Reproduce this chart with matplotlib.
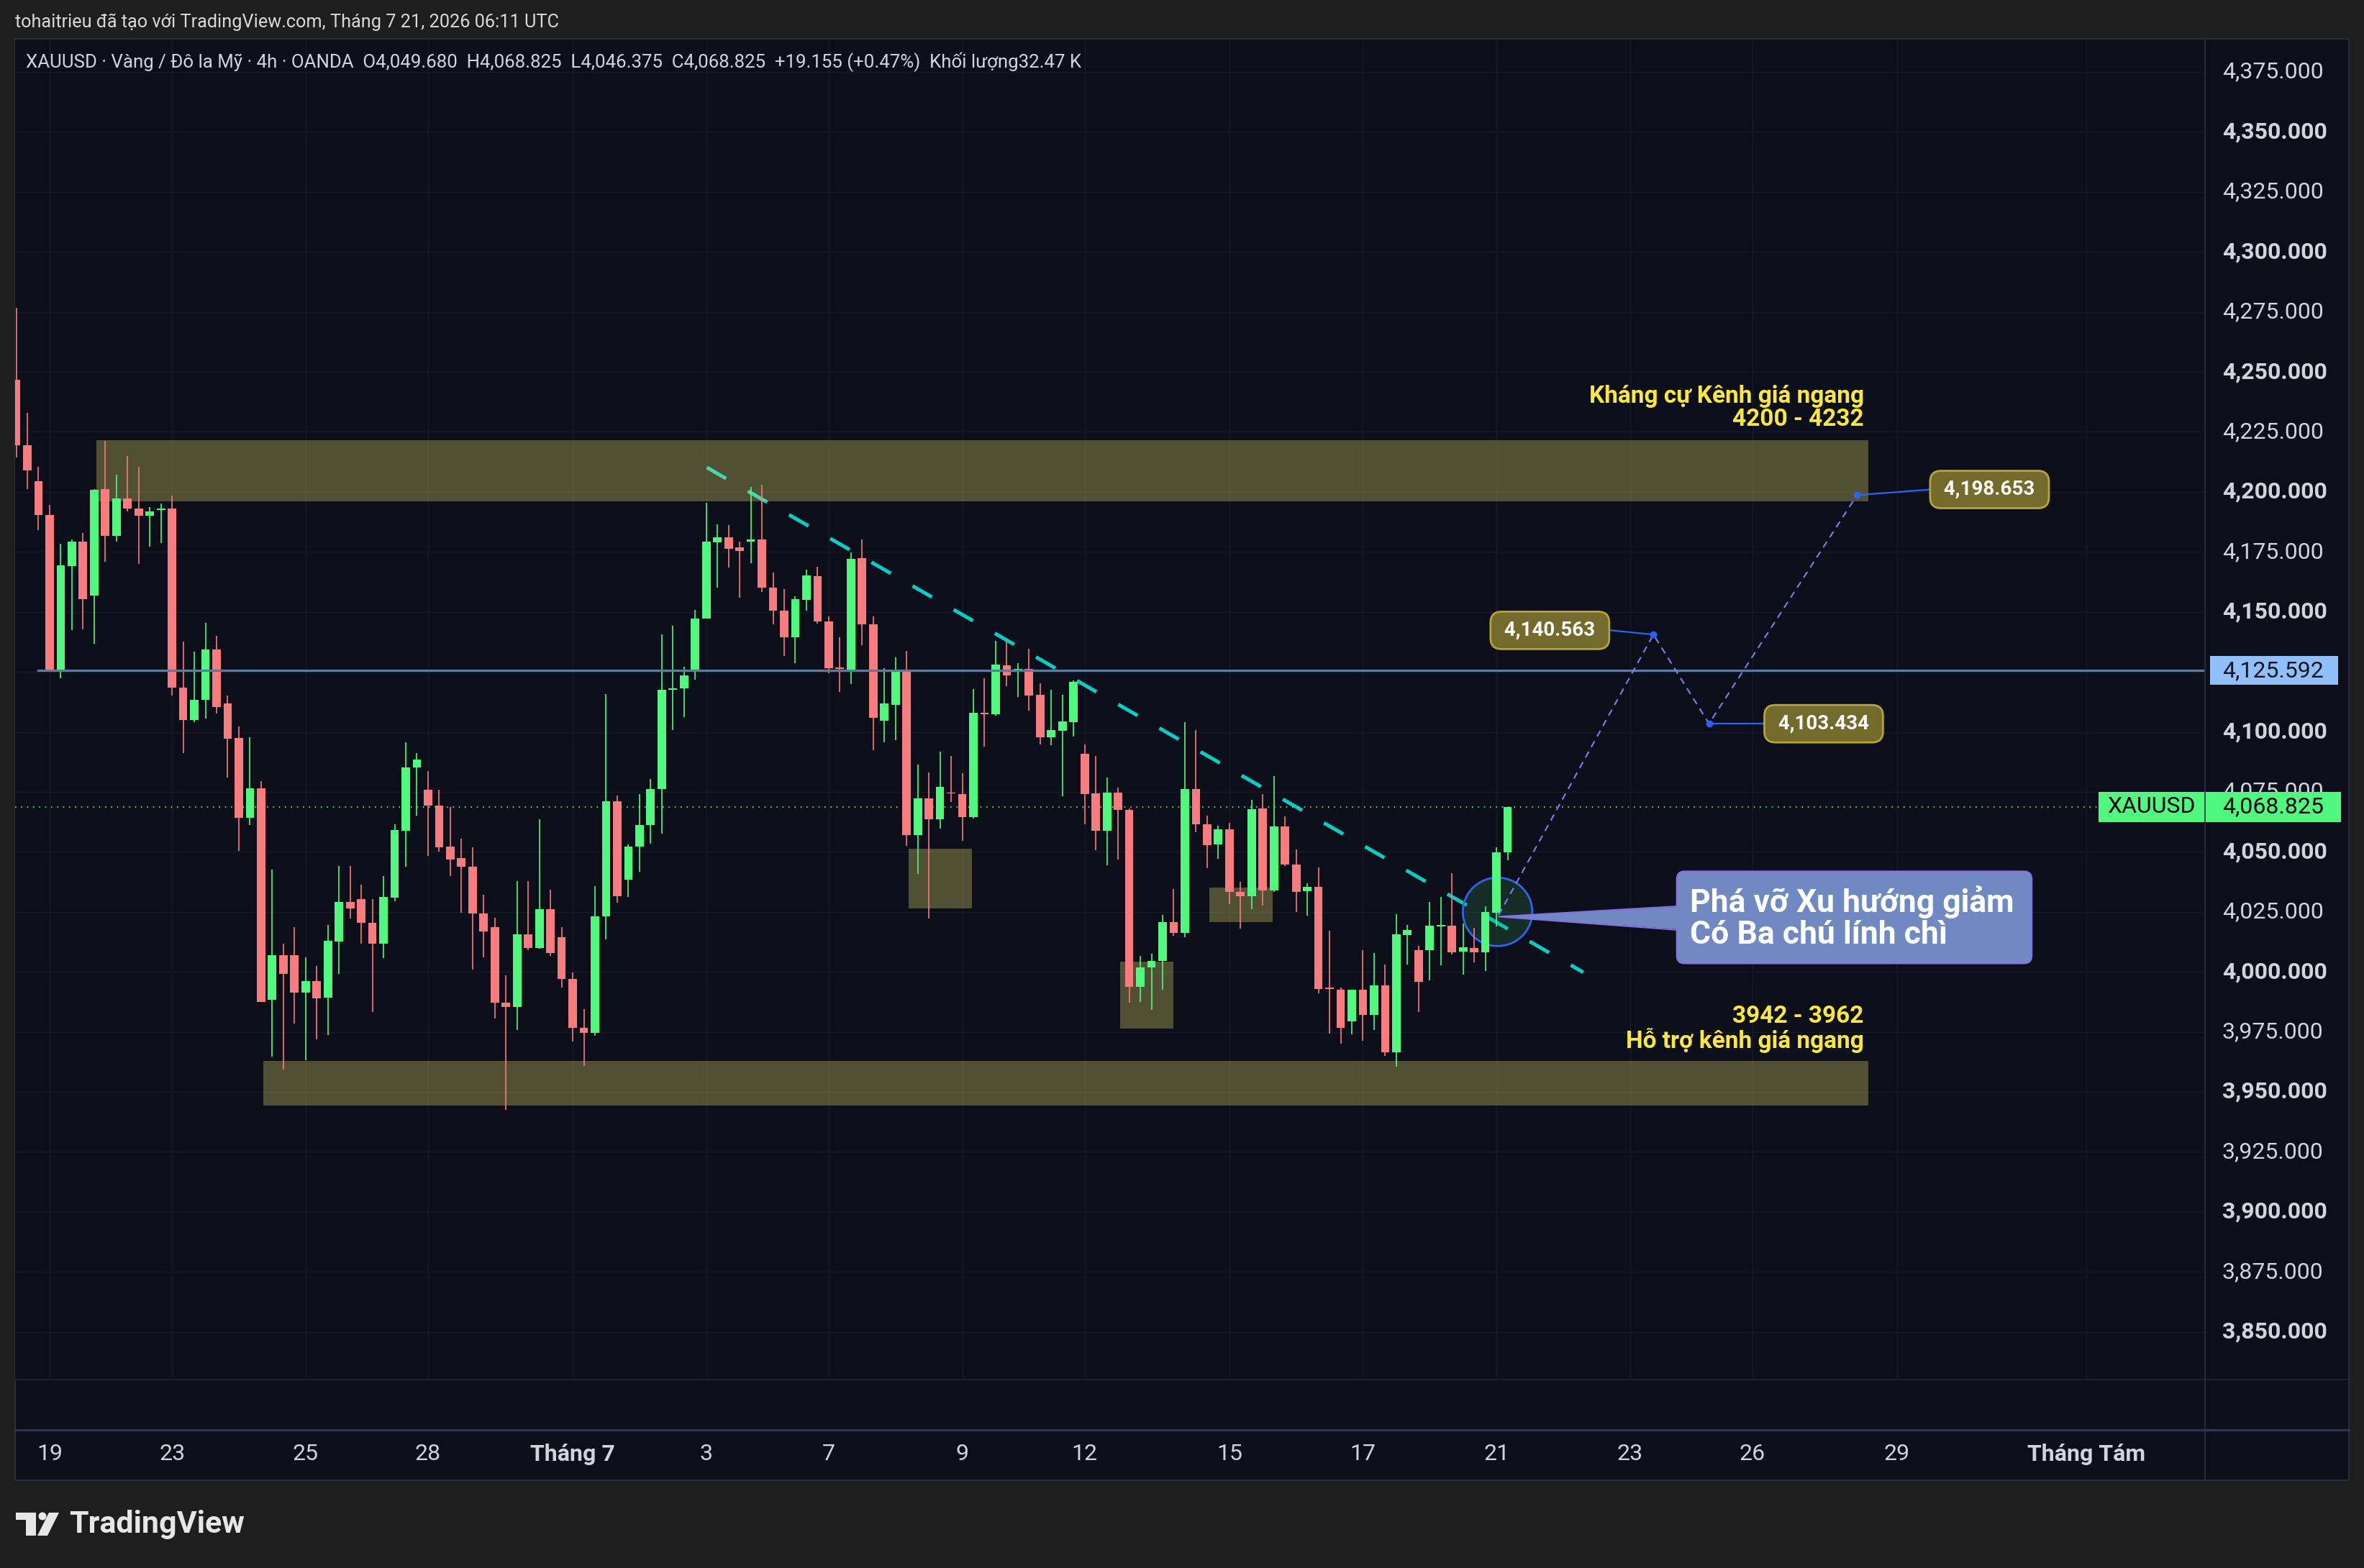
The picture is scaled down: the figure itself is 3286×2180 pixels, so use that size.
import numpy as np
import matplotlib.pyplot as plt
from matplotlib.patches import Rectangle, FancyBboxPatch, Ellipse, Polygon
from matplotlib.transforms import blended_transform_factory

plt.rcParams['font.family'] = ['Roboto', 'DejaVu Sans']

# 4h candles XAUUSD (index 0 = first visible bar)
opens = [4246.7, 4219.4, 4204.6, 4190.4, 4125.6, 4169.1, 4179.2, 4156.9, 4201.1, 4181.7,
         4197.2, 4193.1, 4190.1, 4192.5, 4193.1, 4118.3, 4105.0, 4113.2, 4134.3, 4111.9,
         4097.4, 4064.3, 4076.6, 3988.3, 4006.8, 4006.8, 3991.5, 3996.3, 3989.2, 4012.5,
         4029.0, 4030.2, 4020.5, 4011.6, 4031.0, 4058.8, 4085.1, 4075.9, 4069.3, 4052.3,
         4047.3, 4043.9, 4024.2, 4018.7, 3987.3, 3985.5, 4015.7, 4010.0, 4026.2, 4014.4,
         3997.0, 3976.8, 3974.7, 4023.1, 4071.1, 4038.5, 4052.3, 4061.1, 4076.2, 4117.6,
         4118.0, 4125.8, 4147.1, 4179.0, 4181.0, 4176.8, 4179.4, 4180.1, 4160.0, 4150.5,
         4139.4, 4155.0, 4164.9, 4146.0, 4126.7, 4125.9, 4172.3, 4144.8, 4104.6, 4111.3,
         4125.2, 4057.0, 4072.4, 4063.7, 4074.7, 4074.1, 4064.5, 4108.0, 4107.4, 4127.8,
         4125.2, 4126.3, 4115.3, 4097.8, 4100.6, 4104.2, 4090.9, 4074.4, 4058.8, 4074.7,
         4067.5, 3993.8, 4001.9, 4004.5, 4020.6, 4016.2, 4076.2, 4061.4, 4053.2, 4059.5,
         4033.4, 4031.4, 4068.2, 4034.0, 4060.7, 4044.7, 4033.5, 4035.4, 3993.5, 3992.5,
         3979.5, 3992.5, 3982.1, 3994.5, 3966.6, 4015.3, 4009.1, 4009.0, 4019.0, 4019.2,
         4008.4, 4009.8, 4008.2, 4024.7, 4049.68]
highs = [4276.7, 4232.9, 4210.5, 4194.7, 4178.5, 4180.1, 4182.8, 4201.1, 4221.3, 4207.1,
         4215.1, 4210.5, 4193.8, 4195.2, 4198.6, 4137.5, 4133.4, 4145.3, 4140.0, 4115.1,
         4102.4, 4097.7, 4079.6, 4042.5, 4011.6, 4018.7, 4005.9, 4002.4, 4019.4, 4044.1,
         4044.1, 4036.4, 4030.2, 4040.0, 4061.5, 4095.8, 4091.3, 4083.7, 4075.9, 4068.8,
         4055.5, 4051.9, 4032.2, 4022.6, 3998.6, 4037.7, 4037.7, 4063.6, 4034.1, 4018.5,
         3999.7, 3984.6, 4035.6, 4115.8, 4073.6, 4053.0, 4074.1, 4080.3, 4140.5, 4144.1,
         4127.0, 4150.8, 4195.6, 4186.5, 4186.2, 4179.2, 4202.0, 4202.9, 4166.5, 4159.6,
         4156.5, 4167.5, 4168.7, 4148.1, 4139.4, 4174.7, 4180.1, 4148.0, 4126.6, 4131.1,
         4133.8, 4086.4, 4083.1, 4091.8, 4089.9, 4082.8, 4117.9, 4122.4, 4138.0, 4137.9,
         4128.5, 4134.7, 4120.1, 4117.4, 4115.3, 4121.4, 4094.7, 4089.9, 4080.9, 4076.9,
         4068.1, 4006.5, 4007.5, 4023.7, 4034.6, 4104.0, 4100.7, 4065.2, 4061.0, 4062.2,
         4037.4, 4071.8, 4074.2, 4081.7, 4064.9, 4050.9, 4036.9, 4043.5, 4017.2, 3993.4,
         3992.5, 4009.1, 4007.7, 4002.9, 4024.0, 4019.5, 4010.7, 4029.0, 4031.2, 4041.1,
         4020.1, 4018.4, 4027.2, 4052.0, 4068.825]
lows = [4214.4, 4201.1, 4184.0, 4125.6, 4122.2, 4142.3, 4142.8, 4136.8, 4170.9, 4179.4,
        4192.0, 4170.0, 4177.3, 4178.7, 4115.1, 4091.3, 4104.1, 4105.7, 4107.7, 4081.0,
        4050.5, 4061.1, 3987.6, 3964.7, 3959.2, 3978.6, 3963.1, 3971.8, 3973.8, 3999.2,
        4022.1, 4011.6, 3983.2, 4005.7, 4029.5, 4043.7, 4065.2, 4048.2, 4050.1, 4039.8,
        4024.7, 4000.8, 4005.9, 3980.5, 3942.5, 3975.7, 4008.9, 4009.5, 4006.6, 3993.5,
        3971.1, 3960.8, 3973.4, 4013.4, 4028.8, 4031.3, 4041.8, 4053.5, 4057.6, 4100.7,
        4106.1, 4121.7, 4147.1, 4160.2, 4168.6, 4155.8, 4170.2, 4158.4, 4144.9, 4131.7,
        4128.6, 4150.5, 4145.1, 4124.4, 4116.6, 4119.8, 4136.0, 4092.4, 4095.7, 4096.5,
        4052.5, 4040.9, 4022.1, 4059.8, 4070.7, 4054.6, 4064.0, 4094.0, 4106.8, 4118.9,
        4114.6, 4108.8, 4094.8, 4094.5, 4073.1, 4098.1, 4061.4, 4050.7, 4044.4, 4046.7,
        3987.3, 3987.4, 3984.3, 3992.5, 4014.9, 4014.3, 4058.3, 4043.2, 4047.1, 4028.3,
        4017.9, 4026.2, 4027.5, 4033.4, 4044.2, 4024.9, 4023.3, 3991.0, 3974.4, 3970.0,
        3974.1, 3971.4, 3975.9, 3964.9, 3960.4, 4003.0, 3983.4, 3996.5, 4002.6, 4007.1,
        3998.9, 4003.8, 4000.3, 4018.8, 4046.375]
closes = [4219.4, 4208.9, 4190.4, 4125.6, 4169.3, 4179.2, 4155.4, 4200.9, 4181.7, 4197.2,
          4193.1, 4190.1, 4192.0, 4193.1, 4118.3, 4105.0, 4113.2, 4134.3, 4110.3, 4097.2,
          4064.3, 4076.6, 3987.6, 4006.8, 3999.2, 3991.5, 3996.3, 3989.0, 4012.8, 4029.0,
          4026.5, 4020.3, 4011.6, 4031.1, 4059.2, 4085.1, 4088.5, 4069.3, 4051.9, 4046.9,
          4043.9, 4024.2, 4016.9, 3987.3, 3985.5, 4015.7, 4010.0, 4026.2, 4007.7, 3997.0,
          3976.8, 3974.7, 4023.1, 4071.1, 4031.5, 4052.3, 4061.1, 4076.2, 4117.6, 4118.0,
          4123.5, 4147.1, 4179.2, 4181.2, 4176.4, 4175.3, 4180.1, 4160.0, 4150.5, 4139.4,
          4155.3, 4165.2, 4146.0, 4126.5, 4126.1, 4172.0, 4144.8, 4105.9, 4111.7, 4125.2,
          4057.0, 4072.4, 4063.7, 4077.2, 4074.3, 4064.5, 4108.1, 4107.5, 4128.0, 4123.4,
          4126.2, 4115.2, 4097.8, 4100.7, 4104.5, 4120.7, 4074.0, 4058.8, 4074.7, 4067.5,
          3993.8, 4001.7, 4004.5, 4020.6, 4016.2, 4076.2, 4061.4, 4052.8, 4059.5, 4033.4,
          4031.5, 4067.9, 4034.0, 4060.7, 4044.7, 4033.4, 4035.3, 3992.9, 3992.9, 3976.8,
          3992.5, 3982.1, 3994.5, 3966.6, 4015.5, 4017.5, 3995.8, 4019.2, 4019.6, 4008.1,
          4010.2, 4008.0, 4025.0, 4049.7, 4068.825]

tick_idx = [3, 14, 26, 37, 50, 62, 73, 85, 96, 109, 121, 133, 145, 156, 169, 186]
tick_lbl = ['19', '23', '25', '28', 'Tháng 7', '3', '7', '9', '12', '15', '17', '21',
            '23', '26', '29', 'Tháng Tám']
price_ticks = np.arange(3850, 4400, 25)

resist = (4196.0, 4221.5)
support = (3944.3, 3963.0)
small_zones = [(80.2, 85.9, 4026.3, 4051.2), (99.2, 104.0, 3976.5, 4004.1),
               (107.2, 112.9, 4020.7, 4035.1)]
hline = 4125.592
last = 4068.825
trend_x = [62.05, 140.8]
trend_y = [4210.2, 3999.8]
path_x = [133.2, 147.1, 152.1, 165.4]
path_y = [4023.7, 4140.563, 4103.434, 4198.653]

W, H = 3286, 2180
GREEN = '#50f97d'
RED = '#f67c80'
NAVY = '#0c0f19'
GREY = '#d1d4dc'
YEL = '#fbe83b'
AXFS = 23


def fx(px):
    return px / W


def fy(py):
    return 1 - py / H


fig = plt.figure(figsize=(W / 100, H / 100), dpi=100)
fig.patch.set_facecolor('#1e1e1e')

# frame drawn in pixel space
bg = fig.add_axes([0, 0, 1, 1], zorder=-1)
bg.set_xlim(0, W)
bg.set_ylim(H, 0)
bg.axis('off')
bg.add_patch(Rectangle((21, 54), 3244, 2004, fc=NAVY, ec='#2a2d35', lw=1.5))
bg.plot([21, 3265], [1918, 1918], color='#1b2a33', lw=1.2)
bg.plot([21, 3265], [1988, 1988], color='#2c3650', lw=2.4)
bg.plot([3065, 3065], [54, 2058], color='#2a3142', lw=1.2)
# TradingView logo
bg.add_patch(Rectangle((22, 2103), 28, 10, fc='#e6e6e6', ec='none'))
bg.add_patch(Rectangle((36, 2103), 14, 32, fc='#e6e6e6', ec='none'))
bg.add_patch(plt.Circle((59, 2108), 5.5, fc='#e6e6e6', ec='none'))
bg.add_patch(Polygon([(68, 2103), (82, 2103), (66, 2135), (52, 2135)], fc='#e6e6e6', ec='none'))
bg.text(96, 2119, 'TradingView', fontsize=31, fontweight='bold', color='#e6e6e6',
        va='center', ha='left')

ax = fig.add_axes([fx(21), fy(1917), fx(3064) - fx(21), fy(56) - fy(1917)], zorder=1)
ax.set_facecolor(NAVY)
ax.set_xlim(-0.1, 196.6)
ax.set_ylim(3830.4, 4388.2)
for s in ax.spines.values():
    s.set_visible(False)
ax.set_xticks([])
ax.set_yticks([])

for p in price_ticks:
    ax.axhline(p, color='#151a25', lw=1, zorder=0.5)
for t in tick_idx:
    ax.axvline(t, color='#151a25', lw=1, zorder=0.5)

# zones
ax.add_patch(Rectangle((7.2, resist[0]), 166.4 - 7.2, resist[1] - resist[0],
                       fc='#f2e474', alpha=0.3, ec='none', zorder=2))
ax.add_patch(Rectangle((22.2, support[0]), 166.4 - 22.2, support[1] - support[0],
                       fc='#f2e474', alpha=0.3, ec='none', zorder=2))
for x0, x1, y0, y1 in small_zones:
    ax.add_patch(Rectangle((x0, y0), x1 - x0, y1 - y0, fc='#f2e474', alpha=0.3,
                           ec='none', zorder=2))

# down trend line
ax.plot(trend_x, trend_y, color='#00cfc6', lw=3.6, ls=(0, (6.2, 7.0)),
        solid_capstyle='butt', dash_capstyle='butt', zorder=1.5)

# breakout ellipse
ax.add_patch(Ellipse((133.1, 4025.0), 6.24, 28.5, fc=(0.2, 0.62, 0.35, 0.22),
                     ec='#2f63f0', lw=2, zorder=2.8))

# candles
o = np.array(opens)
c = np.array(closes)
x = np.arange(len(o))
cols = [GREEN if cc >= oo else RED for oo, cc in zip(o, c)]
ax.vlines(x, lows, highs, colors=cols, lw=1.2, zorder=3)
ax.bar(x, np.maximum(np.abs(c - o), 0.35), bottom=np.minimum(o, c), width=0.76,
       color=cols, lw=0, zorder=3.1)

# horizontal level + last price
ax.plot([2.0, 196.6], [hline, hline], color='#5a7aaa', lw=2.3, zorder=4)
ax.axhline(last, color=GREEN, lw=1.2, ls=(0, (1, 4)), zorder=2.5)

# projection path
ax.plot(path_x, path_y, color='#7b7ef0', lw=1.5, ls=(0, (4.5, 3.5)), zorder=5)
ax.plot(path_x[1:], path_y[1:], 'o', ms=6, mfc='#2962ff', mec='#2962ff', zorder=6)
ax.plot([143.1, path_x[1]], [4142.4, path_y[1]], color='#2962ff', lw=1.6, zorder=5)
ax.plot([path_x[2], 157.1], [path_y[2], path_y[2]], color='#2962ff', lw=1.6, zorder=5)
ax.plot([path_x[3], 172.0], [path_y[3], 4201.0], color='#2962ff', lw=1.6, zorder=5)
box = dict(boxstyle='round,pad=0.45,rounding_size=0.55', fc='#746a2b', ec='#b5a438', lw=2)
for bx, by, s in [(137.8, 4142.3, '4,140.563'), (162.4, 4103.4, '4,103.434'),
                  (177.3, 4201.0, '4,198.653')]:
    ax.text(bx, by, ' ' + s + ' ', ha='center', va='center', color='white', fontsize=20,
            fontweight='bold', bbox=box, zorder=7)

# zone labels
for ty, s in [(4239.7, 'Kháng cự Kênh giá ngang'), (4230.3, '4200 - 4232'),
              (3981.5, '3942 - 3962'), (3971.5, 'Hỗ trợ kênh giá ngang')]:
    ax.text(166.0, ty, s, ha='right', va='center', color=YEL, fontsize=24,
            fontweight='bold', zorder=6)

# callout
CALL = '#7189c2'
CEDGE = '#8a6fe4'
ax.add_patch(FancyBboxPatch((149.2, 4003.5), 31.9, 38.4,
                            boxstyle='round,pad=0,rounding_size=0.7', mutation_aspect=4.64,
                            fc=CALL, ec=CEDGE, lw=1.5, zorder=7))
ax.add_patch(Polygon([(150.2, 4027.3), (133.2, 4023.0), (150.2, 4017.5)], fc=CALL,
                     ec='none', zorder=7.1))
ax.plot([149.2, 133.2, 149.2], [4027.3, 4023.0, 4017.5], color=CEDGE, lw=1.5, zorder=7.2)
ax.text(150.4, 4022.6, 'Phá vỡ Xu hướng giảm\nCó Ba chú lính chì', ha='left', va='center',
        color='white', fontsize=32, fontweight='bold', linespacing=1.05, zorder=8)

# price scale
yb = blended_transform_factory(fig.transFigure, ax.transData)
for p in price_ticks:
    ax.text(fx(3089), p, f'{p:,.3f}', transform=yb, ha='left', va='center', color=GREY,
            fontsize=AXFS, fontweight='bold' if p % 50 == 0 else 'normal', clip_on=False)
ax.add_patch(Rectangle((fx(3072), hline - 6.0), fx(3250) - fx(3072), 12.0, transform=yb,
                       fc='#91bffa', ec='none', clip_on=False, zorder=8))
ax.text(fx(3089), hline, f'{hline:,.3f}', transform=yb, ha='left', va='center',
        color='#131722', fontsize=AXFS, clip_on=False, zorder=9)
ax.add_patch(Rectangle((fx(2917), last - 6.3), fx(3254) - fx(2917), 12.6, transform=yb,
                       fc=GREEN, ec='none', clip_on=False, zorder=8))
ax.plot([fx(3065), fx(3065)], [last - 6.3, last + 6.3], transform=yb, color='#2a3142',
        lw=1.2, clip_on=False, zorder=8.5)
ax.text(fx(2990), last, 'XAUUSD', transform=yb, ha='center', va='center', color='black',
        fontsize=AXFS, clip_on=False, zorder=9)
ax.text(fx(3089), last, f'{last:,.3f}', transform=yb, ha='left', va='center', color='black',
        fontsize=AXFS, clip_on=False, zorder=9)

# time scale
xb = blended_transform_factory(ax.transData, fig.transFigure)
for t, lbl in zip(tick_idx, tick_lbl):
    ax.text(t, fy(2022), lbl, transform=xb, ha='center', va='center', color=GREY,
            fontsize=AXFS, fontweight='bold' if lbl.startswith('Tháng') else 'normal',
            clip_on=False)

fig.text(fx(21), fy(31), 'tohaitrieu đã tạo với TradingView.com, Tháng 7 21, 2026 06:11 UTC',
         ha='left', va='center', color='#d9d9d9', fontsize=18.2)
fig.text(fx(36), fy(86), 'XAUUSD · Vàng / Đô la Mỹ · 4h · OANDA  O4,049.680  H4,068.825  '
         'L4,046.375  C4,068.825  +19.155 (+0.47%)  Khối lượng32.47 K',
         ha='left', va='center', color=GREY, fontsize=18.6)

fig.savefig('out.png', dpi=100, facecolor=fig.get_facecolor())
